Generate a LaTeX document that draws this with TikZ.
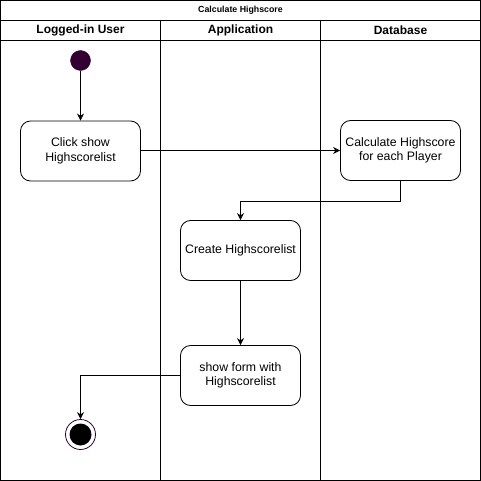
\documentclass[tikz,border=0pt]{standalone}
\usepackage{fontspec}
\setmainfont{Liberation Sans}
\usetikzlibrary{arrows.meta}
\definecolor{startfill}{HTML}{330033}
\definecolor{endline}{HTML}{330033}
\begin{document}
\begin{tikzpicture}[x=1pt,y=-1pt,
  lane/.style={draw=black,line width=1pt},
  act/.style={draw=black,line width=0.8pt,rounded corners=10pt,minimum width=120pt,minimum height=60pt,align=center,font=\fontsize{12.3}{14.5}\selectfont,inner sep=2pt},
  flow/.style={draw=black,line width=0.8pt,-{Stealth[length=7pt,width=7pt]}},
  hdr/.style={font=\bfseries\fontsize{12}{14}\selectfont},
]
\useasboundingbox (-0.5,-0.5) rectangle (480.5,480.5);
% pool and lanes
\draw[lane] (0,0) rectangle (480,480);
\draw[lane] (0,20) -- (480,20);
\draw[lane] (0,40) -- (480,40);
\draw[lane] (160,20) -- (160,480);
\draw[lane] (320,20) -- (320,480);
\node[font=\bfseries\fontsize{8.8}{10}\selectfont] (title) at (240,10) {Calculate Highscore};
\node[hdr] (h1) at (80,30) {Logged-in User};
\node[hdr] (h2) at (240,30) {Application};
\node[hdr] (h3) at (400,30) {Database};
% nodes
\node[circle,fill=startfill,draw=startfill,minimum size=20pt,inner sep=0pt] (start) at (80,60) {};
\node[act] (click) at (80,150.5) {Click show\\Highscorelist};
\node[act] (calc) at (400,150) {Calculate Highscore\\for each Player};
\node[act] (create) at (240,250) {Create Highscorelist};
\node[act] (show) at (240,375) {show form with\\Highscorelist};
\node[circle,draw=endline,line width=0.8pt,minimum size=30pt,inner sep=0pt] (end) at (80,434) {};
\node[circle,fill=black,minimum size=22pt,inner sep=0pt] (endin) at (80,434) {};
% connectors
\draw[flow] (start) -- (click);
\draw[flow] (click.east |- 0,150) -- (calc.west);
\draw[flow] (calc.south) -- ++(0,20) -| (create.north);
\draw[flow] (create.south) -- (show.north);
\draw[flow] (show.west) -| (end.north);
\end{tikzpicture}
\end{document}
